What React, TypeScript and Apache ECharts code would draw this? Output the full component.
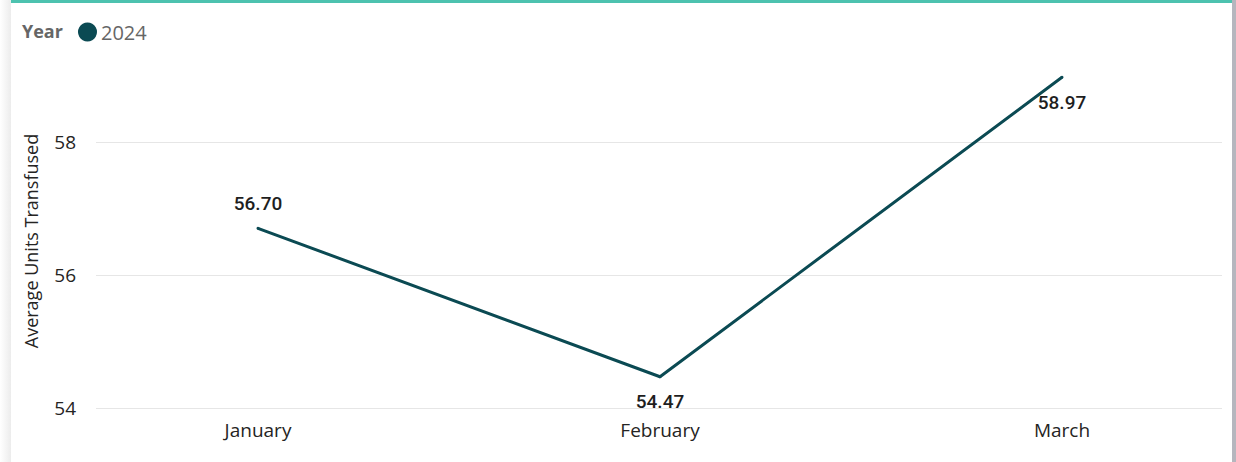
import React, { useEffect, useRef } from "react";
import * as echarts from "echarts";

const months = ["January", "February", "March"];
const units2024 = [56.7, 54.47, 58.97];
const labelPositions = ["top", "bottom", "bottom"];
const seriesName = "2024";
const legendTitle = "Year";
const yAxisTitle = "Average Units Transfused";

const LINE = "#0B4A53";
const TEXT = "#252423";

export default function App() {
  const ref = useRef<HTMLDivElement>(null);
  useEffect(() => {
    const chart = echarts.init(ref.current!, undefined, { renderer: "svg" });
    const yMin = 54;
    const yMax = 59.2;
    const top = 62;
    const bottom = 54;
    chart.setOption({
      animation: false,
      backgroundColor: "#ffffff",
      graphic: [
        {
          type: "rect",
          shape: { x: 0, y: 0, width: 11, height: 462 },
          style: {
            fill: new echarts.graphic.LinearGradient(0, 0, 1, 0, [
              { offset: 0, color: "#ffffff" },
              { offset: 1, color: "#ececec" },
            ]),
          },
          silent: true,
        },
        {
          type: "rect",
          shape: { x: 11, y: 0, width: 1221, height: 3 },
          style: { fill: "#4DC2AF" },
          silent: true,
        },
        {
          type: "rect",
          shape: { x: 1232, y: 0, width: 4, height: 462 },
          style: { fill: "#B6B6BE" },
          silent: true,
        },
        {
          type: "text",
          left: 22,
          top: 22,
          style: {
            text: legendTitle,
            fill: "#666666",
            font: "bold 18px 'Open Sans', sans-serif",
          },
        },
      ],
      legend: {
        left: 78,
        top: 22,
        padding: 0,
        icon: "circle",
        itemWidth: 19,
        itemHeight: 19,
        itemGap: 4,
        data: [seriesName],
        itemStyle: { color: LINE, opacity: 1 },
        textStyle: {
          color: "#666666",
          fontSize: 20,
          lineHeight: 20,
          fontFamily: "'Open Sans', sans-serif",
          padding: [0, 0, 0, -1],
        },
      },
      grid: [
        { left: 96, right: 14, top, bottom, outerBoundsMode: "none", containLabel: false },
        { left: 57, width: 1206, top, bottom, outerBoundsMode: "none", containLabel: false },
      ],
      xAxis: [
        {
          type: "category",
          gridIndex: 0,
          data: months,
          show: false,
        },
        {
          type: "category",
          gridIndex: 1,
          data: months,
          axisLine: { show: false },
          axisTick: { show: false },
          axisLabel: {
            color: TEXT,
            fontSize: 19,
            fontFamily: "'Open Sans', sans-serif",
            margin: 12,
          },
        },
      ],
      yAxis: [
        {
          type: "value",
          gridIndex: 0,
          min: yMin,
          max: yMax,
          interval: 2,
          name: yAxisTitle,
          nameLocation: "middle",
          nameGap: 56,
          nameTextStyle: {
            color: TEXT,
            fontSize: 18,
            fontFamily: "'Open Sans', sans-serif",
            fontWeight: 500,
            padding: [0, 12, 0, 0],
          },
          axisLine: { show: false },
          axisTick: { show: false },
          axisLabel: {
            color: TEXT,
            fontSize: 19,
            fontFamily: "'Open Sans', sans-serif",
            margin: 20,
            showMaxLabel: false,
          },
          splitLine: {
            showMaxLine: false,
            lineStyle: { color: "#E6E6E6", width: 1 },
          },
        },
        {
          type: "value",
          gridIndex: 1,
          min: yMin,
          max: yMax,
          interval: 2,
          show: false,
          splitLine: { show: false },
        },
      ],
      series: [
        {
          name: seriesName,
          type: "line",
          xAxisIndex: 1,
          yAxisIndex: 1,
          data: units2024.map((v, i) => ({
            value: v,
            label: { position: labelPositions[i] },
          })),
          color: LINE,
          symbol: "circle",
          symbolSize: 3,
          showSymbol: true,
          itemStyle: { color: LINE },
          lineStyle: { color: LINE, width: 3 },
          labelLayout: { hideOverlap: false },
          label: {
            show: true,
            distance: 14,
            color: "#1E1E1E",
            opacity: 1,
            fontSize: 19,
            fontWeight: 500,
            fontFamily: "Roboto, sans-serif",
            formatter: (p: any) => Number(p.value).toFixed(2),
          },
        },
      ],
    });
    return () => chart.dispose();
  }, []);
  return (
    <div
      ref={ref}
      style={{ position: "absolute", left: 0, top: 0, width: 1236, height: 462 }}
    />
  );
}
